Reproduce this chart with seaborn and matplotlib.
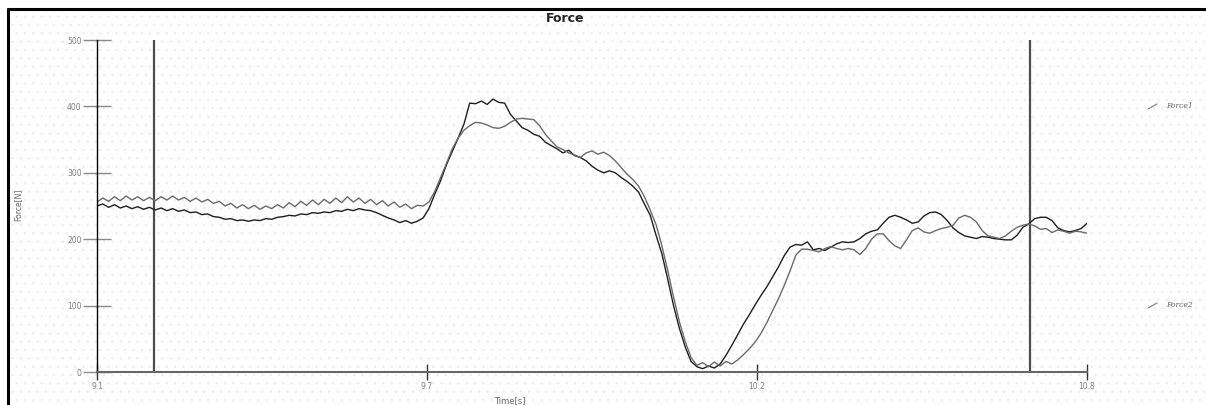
import numpy as np
import pandas as pd
import seaborn as sns
import matplotlib
matplotlib.use("Agg")
import matplotlib.pyplot as plt
from matplotlib.lines import Line2D
from matplotlib.patches import Rectangle

# Sampled force signals, one sample every 10 ms starting at 9.10 s
t_start = 9.10
t_step = 0.01

force1 = [
    250, 253, 248, 252, 247, 250, 246, 249, 245, 248, 244,
    247, 243, 246, 242, 244, 240, 241, 237, 238, 234,
    233, 230, 231, 228, 229, 227, 229, 228, 231, 230,
    233, 234, 236, 235, 238, 237, 240, 239, 241, 240,
    243, 242, 245, 243, 246, 244, 243, 240, 236, 232,
    229, 225, 228, 224, 227, 232, 246,
    268, 288, 312, 332, 352, 373, 405,
    404, 408, 403, 411, 406, 405, 388,
    378, 368, 364, 358, 355, 346, 341, 336, 330, 334, 326, 323,
    318, 310, 304, 300, 303, 300, 293, 287, 280, 271, 253, 236,
    206, 178, 140, 100, 66, 38, 16, 8, 5, 9, 6, 12,
    25, 40, 56, 72, 86, 101, 115, 128, 143, 158, 175, 188, 192,
    191, 196, 184, 186, 183, 188, 193, 196, 195, 196, 201, 208, 212, 214, 224,
    233, 236, 233, 229, 224, 226, 235, 240, 241, 237, 228, 217, 210, 205, 203,
    201, 204, 203, 201, 200, 199, 199, 206, 218, 223, 231, 233, 233, 228, 217,
    213, 211, 213, 216, 224,
]

force2 = [
    256, 262, 257, 264, 258, 265, 259, 264, 258, 263, 258,
    264, 259, 265, 259, 263, 257, 262, 256, 260, 254,
    257, 250, 254, 247, 252, 246, 251, 245, 250, 246,
    252, 247, 255, 249, 257, 251, 259, 252, 260, 254,
    262, 255, 264, 256, 262, 254, 260, 252, 258, 250,
    256, 248, 253, 246, 251, 250, 256,
    272, 293, 314, 336, 352, 364, 371,
    376, 375, 372, 368, 367, 370, 376,
    381, 382, 381, 380, 371, 358, 348, 339, 335, 330, 327, 323,
    330, 333, 328, 331, 326, 318, 308, 298, 290, 280, 264, 244,
    222, 190, 153, 113, 76, 46, 22, 10, 14, 8, 15, 9,
    16, 12, 18, 26, 35, 45, 58, 74, 92, 110, 130, 152, 176,
    185, 185, 183, 181, 186, 189, 186, 184, 186, 184, 177, 186, 200, 208, 208,
    198, 190, 186, 199, 213, 217, 211, 209, 213, 216, 218, 221, 232, 236, 233,
    226, 213, 205, 203, 201, 205, 212, 218, 221, 223, 220, 215, 216, 210, 214,
    212, 209, 212, 211, 209,
]

series_names = ["Force1", "Force2"]
x_ticks = [9.1, 9.1 + 1.7 / 3, 9.1 + 3.4 / 3, 10.8]
x_tick_labels = ["9.1", "9.7", "10.2", "10.8"]
y_ticks = [0, 100, 200, 300, 400, 500]
cursor_times = [9.198, 10.702]

time = np.round(t_start + t_step * np.arange(len(force1)), 2)
df = pd.DataFrame({
    "Time": np.concatenate([time, time]),
    "Force": force1 + force2,
    "Signal": [series_names[0]] * len(force1) + [series_names[1]] * len(force2),
})

sns.set_theme(style="white")
plt.rcParams["font.family"] = ["DejaVu Sans"]
plt.rcParams["hatch.linewidth"] = 0.6

W, H = 1206, 405
fig = plt.figure(figsize=(W / 100, H / 100), dpi=100)
fig.patch.set_facecolor("white")

# faint dotted background texture and the outer frame
bg = Rectangle((8 / W, 0), 1 - 8 / W, 1 - 10 / H, transform=fig.transFigure,
               facecolor="white", edgecolor="#ededed", hatch="..", linewidth=0,
               zorder=-10)
fig.patches.append(bg)
fig.add_artist(Line2D([8 / W, 8 / W], [0, 1 - 9 / H], transform=fig.transFigure,
                      color="black", linewidth=2.2))
fig.add_artist(Line2D([8 / W, 1], [1 - 9 / H, 1 - 9 / H], transform=fig.transFigure,
                      color="black", linewidth=2.2))

ax = fig.add_axes([97 / W, 33 / H, 990 / W, 332 / H])
ax.set_facecolor("none")

sns.lineplot(data=df, x="Time", y="Force", hue="Signal",
             palette={"Force1": "#1e1e1e", "Force2": "#6a6a6a"},
             linewidth=1.0, legend=False, ax=ax)

for ct in cursor_times:
    ax.axvline(ct, color="#4d4d4d", linewidth=1.6, zorder=1)

ax.set_xlim(9.1, 10.8)
ax.set_ylim(0, 500)
ax.set_xticks(x_ticks)
ax.set_xticklabels(x_tick_labels)
ax.set_yticks(y_ticks)
ax.set_yticklabels([str(v) for v in y_ticks])

for side in ["top", "right"]:
    ax.spines[side].set_visible(False)
ax.spines["left"].set_color("black")
ax.spines["left"].set_linewidth(1.0)
ax.spines["bottom"].set_color("#666666")
ax.spines["bottom"].set_linewidth(1.5)

ax.tick_params(axis="y", left=True, direction="inout", length=20, width=1.0,
               color="#8a8a8a", labelsize=5.5, labelcolor="#808080", pad=1)
ax.tick_params(axis="x", bottom=True, direction="inout", length=11, width=1.0,
               color="#333333", labelsize=5.5, labelcolor="#808080", pad=2)
ax.set_xlabel("")
ax.set_ylabel("")

fig.text(565 / W, 1 - 18 / H, "Force", ha="center", va="center",
         fontsize=9, fontweight="bold", color="#222222")
fig.text(18 / W, 1 - 205 / H, "Force[N]", rotation=90, ha="center",
         va="center", fontsize=5.5, color="#666666")
fig.text(510 / W, 1 - 401 / H, "Time[s]", ha="center", va="center",
         fontsize=6, color="#666666")

# series labels to the right of the plot
for name, ypx in [("Force1", 106), ("Force2", 305)]:
    fig.add_artist(Line2D([1148 / W, 1157 / W], [1 - (ypx + 3) / H, 1 - (ypx - 2) / H],
                          transform=fig.transFigure, color="#888888", linewidth=0.9))
    fig.text(1166 / W, 1 - ypx / H, name, ha="left", va="center",
             fontsize=5.5, style="italic", family=["DejaVu Serif"], color="#666666")

fig.savefig("out.png", dpi=100)
